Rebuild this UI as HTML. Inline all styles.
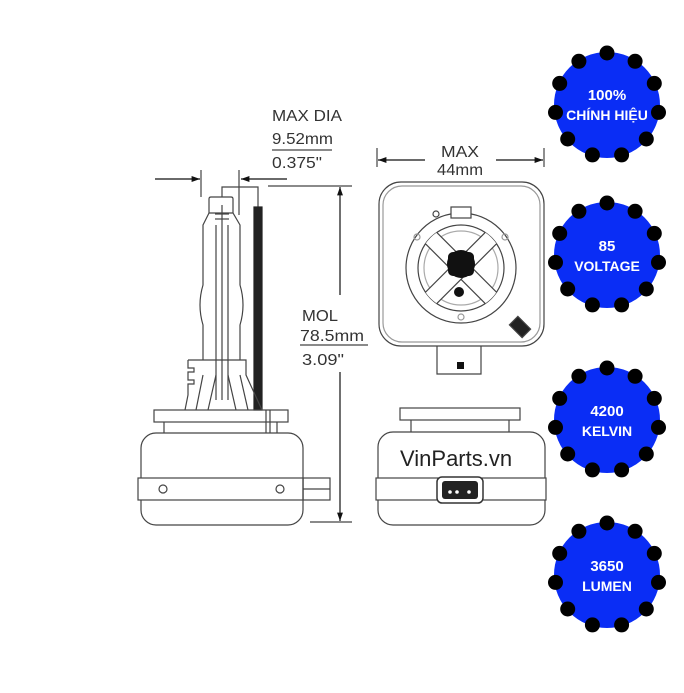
<!DOCTYPE html>
<html><head><meta charset="utf-8"><style>
html,body{margin:0;padding:0;background:#fff;}
svg{display:block;}
text{font-family:"Liberation Sans",sans-serif;}
</style></head><body>
<svg width="684" height="693" viewBox="0 0 684 693" xmlns="http://www.w3.org/2000/svg">
<defs>
<marker id="ah" viewBox="0 0 10 10" refX="10" refY="5" markerWidth="7" markerHeight="7" orient="auto-start-reverse"><path d="M0,1.5 L10,5 L0,8.5z" fill="#111"/></marker>
<clipPath id="cc"><circle cx="461" cy="268" r="43"/></clipPath>
</defs>
<g fill="none" stroke="#444" stroke-width="1.2">
<line x1="155" y1="179" x2="200" y2="179" stroke="#111" marker-end="url(#ah)"/>
<line x1="287" y1="179" x2="241" y2="179" stroke="#111" marker-end="url(#ah)"/>
<line x1="201" y1="170" x2="201" y2="197"/>
<line x1="239" y1="170" x2="239" y2="215"/>
<line x1="272" y1="150" x2="332" y2="150"/>
<path d="M222,197 V187 H258 V207"/>
<rect x="254" y="207" width="8" height="203" fill="#222" stroke="#222"/>
<path d="M209,213 V199 Q209,197 211,197 H231 Q233,197 233,199 V213"/>
<path d="M209,213 H233 L240,225 V285 Q246,305 240,325 V360 M209,213 L203,225 V285 Q197,305 203,325 V360"/>
<line x1="216" y1="225" x2="216" y2="400"/><line x1="228" y1="225" x2="228" y2="400"/>
<line x1="222" y1="205" x2="222" y2="400"/>
<line x1="215" y1="214" x2="229" y2="214"/><line x1="215" y1="219" x2="229" y2="219"/>
<path d="M188,360 H246 V375 L262,410 M188,360 V368 H194 V372 H188 V380 H194 V384 H188 V388 L188,395 L185,410"/>
<path d="M203,375 L196,410 M240,375 L248,410 M216,375 L208,410 M228,375 L236,410"/>
<rect x="154" y="410" width="134" height="12"/>
<line x1="164" y1="422" x2="164" y2="433"/><line x1="277" y1="422" x2="277" y2="433"/>
<line x1="266" y1="410" x2="266" y2="433"/><line x1="270" y1="410" x2="270" y2="433"/>
<rect x="141" y="433" width="162" height="92" rx="15"/>
<rect x="138" y="478" width="165" height="22" fill="#fff"/>
<circle cx="163" cy="489" r="4"/><circle cx="280" cy="489" r="4"/>
<rect x="303" y="478" width="27" height="22"/>
<line x1="303" y1="489" x2="330" y2="489"/>
<line x1="268" y1="186" x2="352" y2="186"/>
<line x1="310" y1="522" x2="352" y2="522"/>
<line x1="340" y1="295" x2="340" y2="187" stroke="#111" marker-end="url(#ah)"/>
<line x1="340" y1="372" x2="340" y2="521" stroke="#111" marker-end="url(#ah)"/>
<line x1="300" y1="345" x2="368" y2="345"/>
<line x1="425" y1="160" x2="378" y2="160" stroke="#111" marker-end="url(#ah)"/>
<line x1="496" y1="160" x2="543" y2="160" stroke="#111" marker-end="url(#ah)"/>
<line x1="377" y1="148" x2="377" y2="167"/><line x1="544" y1="148" x2="544" y2="167"/>
<rect x="379" y="182" width="165" height="164" rx="22"/>
<rect x="383" y="186" width="157" height="156" rx="19" stroke="#999"/>
<circle cx="461" cy="268" r="55"/>
<circle cx="461" cy="268" r="43"/>
<circle cx="461" cy="268" r="37" stroke="#aaa"/>
<g clip-path="url(#cc)" fill="#fff">
<rect x="401" y="260" width="120" height="16" transform="rotate(45 461 268)"/>
<rect x="401" y="260" width="120" height="16" transform="rotate(-45 461 268)"/>
</g>
<rect x="451" y="207" width="20" height="11" fill="#fff"/>
<circle cx="436" cy="214" r="3"/>
<circle cx="417" cy="237" r="3" stroke="#999"/><circle cx="505" cy="237" r="3" stroke="#999"/>
<circle cx="461" cy="317" r="3" stroke="#999"/>
<rect x="514" y="318" width="12" height="18" fill="#222" transform="rotate(-45 520 327)"/>
<path d="M437,346 V374 H481 V346"/>
<rect x="400" y="408" width="120" height="12"/>
<line x1="411" y1="420" x2="411" y2="432"/><line x1="509" y1="420" x2="509" y2="432"/>
<rect x="378" y="432" width="167" height="93" rx="15"/>
<rect x="376" y="478" width="170" height="22" fill="#fff"/>
</g>
<rect x="448" y="252" width="26" height="24" rx="5" fill="#111"/>
<circle cx="461" cy="264" r="14" fill="#111"/>
<circle cx="459" cy="292" r="5" fill="#111"/>
<rect x="457" y="362" width="7" height="7" fill="#111"/>
<rect x="437" y="477" width="46" height="26" rx="5" fill="#fff" stroke="#333" stroke-width="1.5"/>
<rect x="442" y="481" width="36" height="18" rx="3" fill="#222"/>
<circle cx="450" cy="492" r="1.8" fill="#fff"/><circle cx="457" cy="492" r="1.8" fill="#fff"/><circle cx="469" cy="492" r="1.8" fill="#fff"/>
<g fill="#333" font-size="16" lengthAdjust="spacingAndGlyphs">
<text x="272" y="121" textLength="70" lengthAdjust="spacingAndGlyphs">MAX DIA</text>
<text x="272" y="144" textLength="61" lengthAdjust="spacingAndGlyphs">9.52mm</text>
<text x="272" y="168" textLength="50" lengthAdjust="spacingAndGlyphs">0.375"</text>
<text x="302" y="321" textLength="36" lengthAdjust="spacingAndGlyphs">MOL</text>
<text x="300" y="341" textLength="64" lengthAdjust="spacingAndGlyphs">78.5mm</text>
<text x="302" y="365" textLength="42" lengthAdjust="spacingAndGlyphs">3.09"</text>
<text x="441" y="157" textLength="38" lengthAdjust="spacingAndGlyphs">MAX</text>
<text x="437" y="175" textLength="46" lengthAdjust="spacingAndGlyphs">44mm</text>
</g>
<text x="400" y="466" font-size="22" fill="#222">VinParts.vn</text>
<g id="b1" transform="translate(607,105)">
<circle r="53" fill="#0a2df5"/>
<g fill="#000">
<circle cx="0" cy="-52" r="7.5"/><circle cx="28.1" cy="-43.7" r="7.5"/><circle cx="47.3" cy="-21.6" r="7.5"/><circle cx="51.5" cy="7.4" r="7.5"/><circle cx="39.3" cy="34" r="7.5"/><circle cx="14.6" cy="49.9" r="7.5"/><circle cx="-14.6" cy="49.9" r="7.5"/><circle cx="-39.3" cy="34" r="7.5"/><circle cx="-51.5" cy="7.4" r="7.5"/><circle cx="-47.3" cy="-21.6" r="7.5"/><circle cx="-28.1" cy="-43.7" r="7.5"/>
</g></g>
<use href="#b1" transform="translate(0,150)"/>
<use href="#b1" transform="translate(0,315)"/>
<use href="#b1" transform="translate(0,470)"/>
<g fill="#fff" font-weight="bold" font-size="15" text-anchor="middle">
<text x="607" y="100">100%</text><text x="607" y="120" font-size="14">CHÍNH HIỆU</text>
<text x="607" y="251">85</text><text x="607" y="271" font-size="14">VOLTAGE</text>
<text x="607" y="416">4200</text><text x="607" y="436" font-size="14">KELVIN</text>
<text x="607" y="571">3650</text><text x="607" y="591" font-size="14">LUMEN</text>
</g>
</svg>
</body></html>
